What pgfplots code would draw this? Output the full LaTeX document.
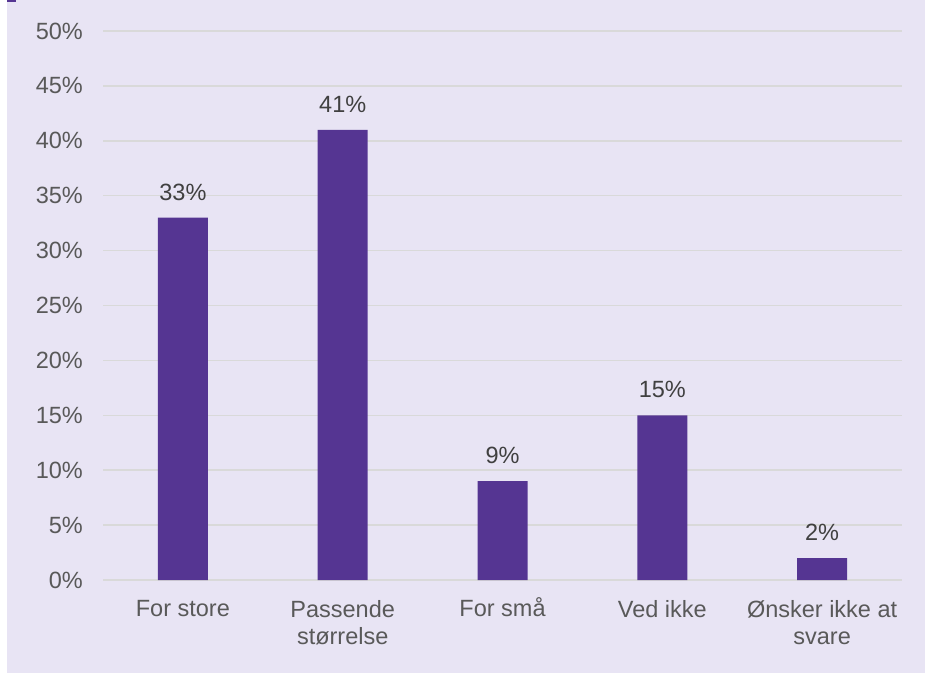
\documentclass[border=0pt]{standalone}
\usepackage{pgfplots}
\pgfplotsset{compat=1.18}
\usepackage{fontspec}
\setmainfont{Liberation Sans}
\definecolor{bg}{HTML}{E8E4F4}
\definecolor{barc}{HTML}{553592}
\definecolor{gridc}{HTML}{D9D9D9}
\definecolor{txt}{HTML}{595959}
\definecolor{lbl}{HTML}{404040}
\begin{document}
\begin{tikzpicture}[x=1pt,y=1pt]
\fill[white] (0,0) rectangle (925,673);
\fill[bg] (7,0) rectangle (925,673);
\fill[barc] (7,671) rectangle (16,673);
\begin{axis}[
  at={(103pt,93pt)}, anchor=south west,
  scale only axis, width=799pt, height=549pt,
  xmin=-0.5, xmax=4.5, ymin=0, ymax=50,
  axis line style={draw=none},
  major tick length=0pt,
  ytick={0,5,10,15,20,25,30,35,40,45,50},
  yticklabels={0\%,5\%,10\%,15\%,20\%,25\%,30\%,35\%,40\%,45\%,50\%},
  ymajorgrids,
  grid style={draw=gridc, line width=1.5pt},
  xtick={0,1,2,3,4},
  xticklabels={For store, Passende\\størrelse, For sm\smash{å}, Ved ikke, \smash{Ø}nsker ikke at\\svare},
  ticklabel style={font=\fontsize{23.5}{27}\selectfont, text=txt, inner sep=0pt},
  xticklabel style={align=center},
  ticklabel shift=20pt,
  ybar, bar width=50pt,
  nodes near coords,
  point meta=explicit symbolic,
  every node near coord/.append style={font=\fontsize{23.5}{27}\selectfont, text=lbl, inner sep=0pt, anchor=south, yshift=17pt},
]
\addplot[fill=barc, draw=none] coordinates {(0,33)[33\%] (1,41)[41\%] (2,9)[9\%] (3,15)[15\%] (4,2)[2\%]};
\end{axis}
\end{tikzpicture}
\end{document}
